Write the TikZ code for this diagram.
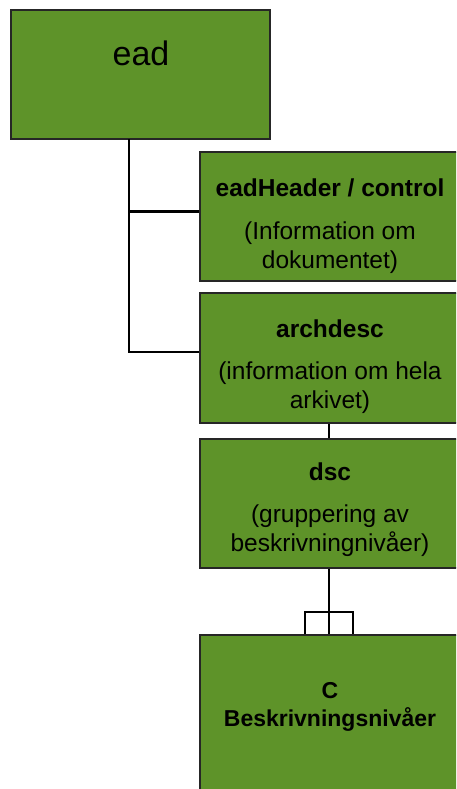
\documentclass[tikz,border=0pt]{standalone}
\usepackage{fontspec}
\setmainfont{Liberation Sans}
\definecolor{eadgreen}{RGB}{94,147,41}
\begin{document}
\begin{tikzpicture}[x=1pt, y=-1pt,
                    box node/.style={rectangle, draw=black!85, line width=1.4pt, fill=eadgreen, inner sep=0pt},
                    text node/.style={align=center, font=\fontsize{24.5}{29}\selectfont, inner sep=0pt},
                    link/.style={draw=black, line width=2.4pt}]
  \useasboundingbox (0,0) rectangle (456,789);
  \clip (0,0) rectangle (456,789);

  % boxes
  \node[box node, minimum width=259pt, minimum height=129pt] (ead)  at (140.5,74.5) {};
  \node[box node, minimum width=262pt, minimum height=129pt] (hdr)  at (331,216.5) {};
  \node[box node, minimum width=262pt, minimum height=130pt] (arch) at (331,358) {};
  \node[box node, minimum width=262pt, minimum height=129pt] (dsc)  at (331,503.5) {};
  \node[box node, minimum width=262pt, minimum height=170pt] (c)    at (331,720) {};

  % texts
  \node[text node, font=\fontsize{34}{40}\selectfont] (eadtext) at (141,53) {ead};
  \node[text node] (hdrtitle) at (330,188) {\textbf{eadHeader / control}};
  \node[text node] (hdrtext)  at (330,248) {(Information om\\dokumentet)};
  \node[text node] (archtitle) at (330,329) {\textbf{archdesc}};
  \node[text node] (archtext)  at (330,388) {(information om hela\\arkivet)};
  \node[text node] (dsctitle) at (330,472) {\textbf{dsc}};
  \node[text node] (dsctext)  at (330,531) {(gruppering av\\beskrivningnivåer)};
  \node[text node, font=\fontsize{23}{28}\selectfont\bfseries] (ctext) at (330,707) {C\\Beskrivningsnivåer};

  % connectors
  \coordinate (trunk) at (129,139);
  \draw[link] (trunk) |- ([yshift=5pt]hdr.west);
  \draw[link] (trunk) |- ([yshift=6pt]arch.west);
  \draw[link] ([xshift=-2pt]arch.south) -- ([xshift=-2pt]dsc.north);
  \draw[link] ([xshift=-2pt]dsc.south) -- ([xshift=-2pt]c.north);
  \coordinate (forkleft) at (305,612);
  \coordinate (forkright) at (353,612);
  \draw[link] (c.north -| forkleft) -- (forkleft) -- (forkright) -- (c.north -| forkright);
\end{tikzpicture}
\end{document}
